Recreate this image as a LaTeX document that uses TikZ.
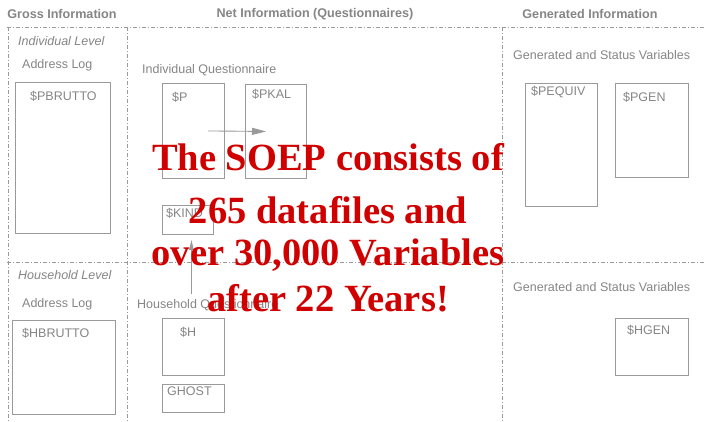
\documentclass[tikz,border=0pt]{standalone}
\usepackage{fontspec}
\setmainfont{Liberation Sans}
\newfontfamily\soepfont{Liberation Serif}
\usepackage{tikz}
\usetikzlibrary{arrows.meta, positioning}

\definecolor{labelgray}{HTML}{858585}
\definecolor{linegray}{HTML}{9A9A9A}
\definecolor{soepred}{HTML}{D00000}

\begin{document}
\begin{tikzpicture}[
        x=1pt, y=-1pt,
        >={Triangle[length=14pt,width=7pt]},
        head/.style={font=\bfseries\fontsize{12.6}{14}\selectfont, text=labelgray, inner sep=0pt},
        tag/.style={font=\fontsize{12.5}{14}\selectfont, text=labelgray, inner sep=0pt, anchor=west},
        level/.style={tag, font=\itshape\fontsize{12.5}{14}\selectfont},
        box/.style={draw=linegray, line width=0.9pt, rectangle, anchor=north west, inner sep=0pt},
        sep/.style={draw=linegray, line width=0.7pt, dash pattern=on 4pt off 2pt on 1pt off 2pt},
        link/.style={draw=linegray, line width=0.9pt},
        big/.style={font=\soepfont\bfseries\fontsize{38.5}{42}\selectfont, text=soepred, inner sep=0pt}
        ]
            \useasboundingbox (0,0) rectangle (705,421);

            % column heads
            \node[head] (GROSS) at (62,14) {Gross Information};
            \node[head] (NET) at (315,14) {Net Information (Questionnaires)};
            \node[head] (GEN) at (590,14) {Generated Information};

            % frame
            \coordinate (TL) at (7,27);
            \coordinate (TR) at (705,27);
            \coordinate (ML) at (7,262);
            \coordinate (MR) at (705,262);
            \draw[sep] (TL) -- (TR);
            \draw[sep] (ML) -- (MR);
            \draw[sep] (8,27) -- (8,421);
            \draw[sep] (127,27) -- (127,421);
            \draw[sep] (502,27) -- (502,421);

            % individual level
            \node[level] (INDLEVEL) at (18,41) {Individual Level};
            \node[tag] (ADDRONE) at (22,65) {Address Log};
            \node[box, minimum width=95pt, minimum height=151pt] (PBRUTTO) at (15,82) {};
            \node[tag] at (30,96) {\$PBRUTTO};

            \node[tag] (INDQ) at (142,70) {Individual Questionnaire};
            \node[box, minimum width=62pt, minimum height=95pt] (P) at (162,83) {};
            \node[tag] at (172,97) {\$P};
            \node[box, minimum width=61pt, minimum height=94pt] (PKAL) at (245,84) {};
            \node[tag] at (252,94) {\$PKAL};
            \node[box, minimum width=51pt, minimum height=29pt] (KIND) at (162,205) {};
            \node[tag] at (166,213) {\$KIND};

            \node[tag] (GSVONE) at (513,55) {Generated and Status Variables};
            \node[box, minimum width=72pt, minimum height=123pt] (PEQUIV) at (525,83) {};
            \node[tag] at (531,92) {\$PEQUIV};
            \node[box, minimum width=73pt, minimum height=94pt] (PGEN) at (615,83) {};
            \node[tag] at (623,97) {\$PGEN};

            % household level
            \node[level] (HHLEVEL) at (18,275) {Household Level};
            \node[tag] (ADDRTWO) at (22,304) {Address Log};
            \node[box, minimum width=103pt, minimum height=94pt] (HBRUTTO) at (12,320) {};
            \node[tag] at (22,333) {\$HBRUTTO};

            \node[tag] (HHQ) at (137,305) {Household Questionnaire};
            \node[box, minimum width=62pt, minimum height=57pt] (H) at (162,318) {};
            \node[tag] at (180,332) {\$H};
            \node[box, minimum width=62pt, minimum height=28pt] (GHOST) at (162,384) {};
            \node[tag] at (167,391) {GHOST};

            \node[tag] (GSVTWO) at (513,287) {Generated and Status Variables};
            \node[box, minimum width=73pt, minimum height=57pt] (HGEN) at (615,318) {};
            \node[tag] at (627,330) {\$HGEN};

            \draw[link, ->] ([xshift=-17pt]P.east) -- ([xshift=21pt]PKAL.west);
            \draw[link, -{Triangle[length=10pt,width=4.5pt]}]
                ([xshift=3.5pt, yshift=5pt]KIND.south |- HHQ.north) -- ([xshift=3.5pt, yshift=-5pt]KIND.south);

            % the red message
            \node[big] (LINEA) at (328,157) {The SOEP consists of};
            \node[big] (LINEB) at (328,210) {265 datafiles and};
            \node[big] (LINEC) at (328,255) {over 30,000 Variables};
            \node[big] (LINED) at (328,298) {after 22 Years!};
        \end{tikzpicture}
\end{document}
